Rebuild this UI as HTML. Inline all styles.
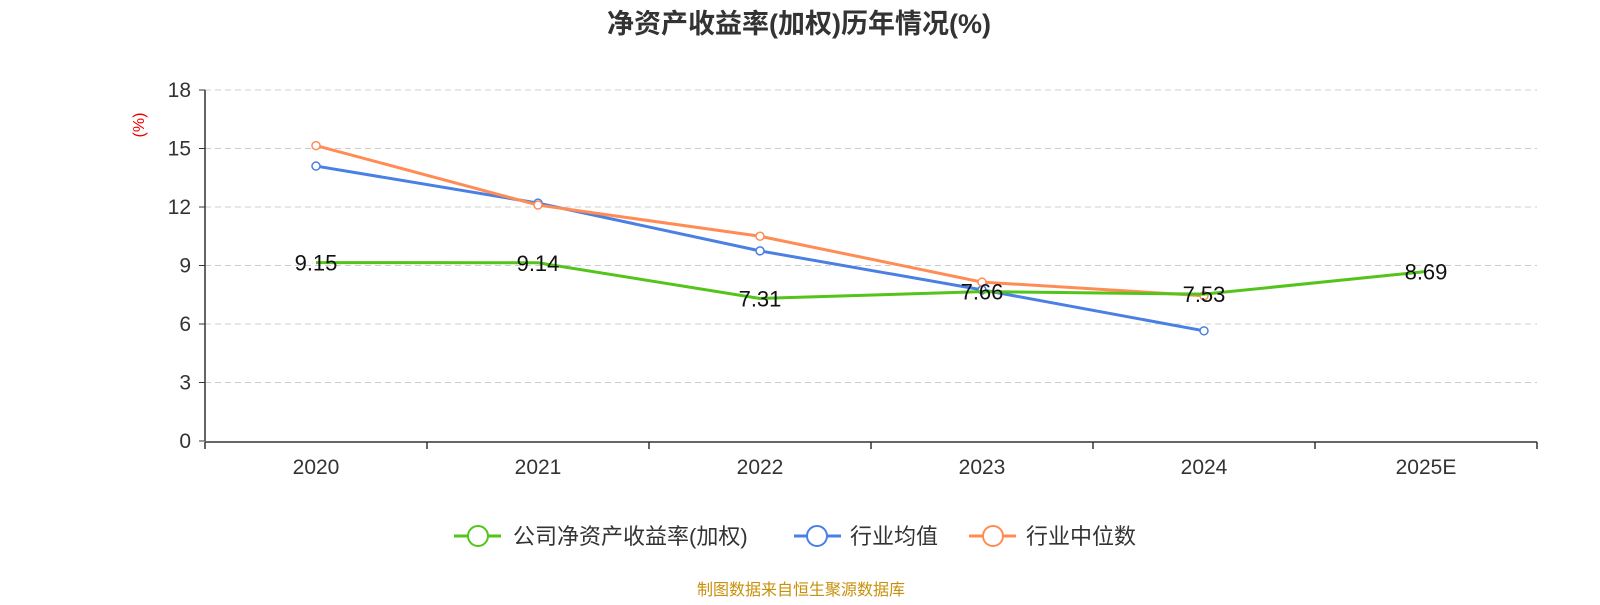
<!DOCTYPE html>
<html><head><meta charset="utf-8"><style>
body{margin:0;background:#fff;width:1600px;height:600px;overflow:hidden;font-family:"Liberation Sans","Noto Sans CJK SC",sans-serif;}
</style></head><body>
<svg id="chart" width="1600" height="600" xmlns="http://www.w3.org/2000/svg" font-family="Liberation Sans, Noto Sans CJK SC, sans-serif">
<text x="799" y="33" text-anchor="middle" font-size="27" font-weight="bold" fill="#333">净资产收益率(加权)历年情况(%)</text>
<text x="144" y="125" text-anchor="middle" font-size="16" fill="#e00" transform="rotate(-90 144 125)">(%)</text>
<g id="grid"></g><g id="axes"></g><g id="series"></g>
<g>
<g><line x1="454" y1="536" x2="501" y2="536" stroke="#52c41a" stroke-width="3"/><circle cx="478" cy="536" r="10" fill="#fff" stroke="#52c41a" stroke-width="2"/><text x="513" y="544" font-size="22" fill="#333">公司净资产收益率(加权)</text></g>
<g><line x1="794" y1="536" x2="841" y2="536" stroke="#4a7fe3" stroke-width="3"/><circle cx="817" cy="536" r="10" fill="#fff" stroke="#4a7fe3" stroke-width="2"/><text x="850" y="544" font-size="22" fill="#333">行业均值</text></g>
<g><line x1="969" y1="536" x2="1016" y2="536" stroke="#ff8c55" stroke-width="3"/><circle cx="993" cy="536" r="10" fill="#fff" stroke="#ff8c55" stroke-width="2"/><text x="1026" y="544" font-size="22" fill="#333">行业中位数</text></g>
</g>
<text x="801" y="595" text-anchor="middle" font-size="16" fill="#c8900a">制图数据来自恒生聚源数据库</text>
</svg>
<script>
const categories=["2020","2021","2022","2023","2024","2025E"];
const companyValues=[9.15,9.14,7.31,7.66,7.53,8.69];
const avgValues=[14.1,12.2,9.75,7.75,5.65];
const medianValues=[15.15,12.1,10.5,8.15,7.45];
const yTicks=[0,3,6,9,12,15,18];
const NS="http://www.w3.org/2000/svg";
const X0=205,X1=1537,Y0=441,Y1=90,bw=(X1-X0)/categories.length;
const xs=i=>X0+bw*(i+0.5);
const ys=v=>Y0-(v/18)*(Y0-Y1);
function mk(tag,attrs,parent){const e=document.createElementNS(NS,tag);for(const k in attrs)e.setAttribute(k,attrs[k]);parent.appendChild(e);return e;}
const grid=document.getElementById('grid'),axes=document.getElementById('axes'),series=document.getElementById('series');
yTicks.forEach(t=>{
  if(t>0){const g=mk('line',{x1:X0,x2:X1,y1:ys(t),y2:ys(t),stroke:'#ccc','stroke-dasharray':'6,4'},grid);
  
  }
  const tk=mk('line',{x1:X0-6,x2:X0,y1:ys(t),y2:ys(t),stroke:'#333'},axes);
  
  
  const l=mk('text',{x:X0-14,y:ys(t)+7,'text-anchor':'end','font-size':21,fill:'#333'},axes);l.textContent=t;
  
  
});
const ya=mk('line',{x1:X0,x2:X0,y1:Y1,y2:Y0,stroke:'#333','stroke-width':1.5},axes);


const xa=mk('line',{x1:X0,x2:X1,y1:Y0+1,y2:Y0+1,stroke:'#333','stroke-width':1.5},axes);


for(let i=0;i<=categories.length;i++){const t=mk('line',{x1:X0+bw*i,x2:X0+bw*i,y1:Y0+1,y2:Y0+8,stroke:'#333','stroke-width':1.5},axes);

}
categories.forEach((c,i)=>{const l=mk('text',{x:xs(i),y:Y0+33,'text-anchor':'middle','font-size':21,fill:'#333'},axes);l.textContent=c;

});
function line(vals,color,name,markers){
  const p=mk('polyline',{points:vals.map((v,i)=>xs(i)+','+ys(v)).join(' '),fill:'none',stroke:color,'stroke-width':3},series);
  
  
  if(markers)vals.forEach((v,i)=>{const c=mk('circle',{cx:xs(i),cy:ys(v),r:4,fill:'#fff',stroke:color,'stroke-width':1.5},series);
  
  });
}
line(avgValues,'#4a7fe3','industry-average',true);
line(medianValues,'#ff8c55','industry-median',true);
line(companyValues,'#52c41a','company-roe',false);
companyValues.forEach((v,i)=>{const l=mk('text',{x:xs(i),y:ys(v)+8,'text-anchor':'middle','font-size':22,fill:'#111'},series);l.textContent=v.toFixed(2);

});
</script>
</body></html>
